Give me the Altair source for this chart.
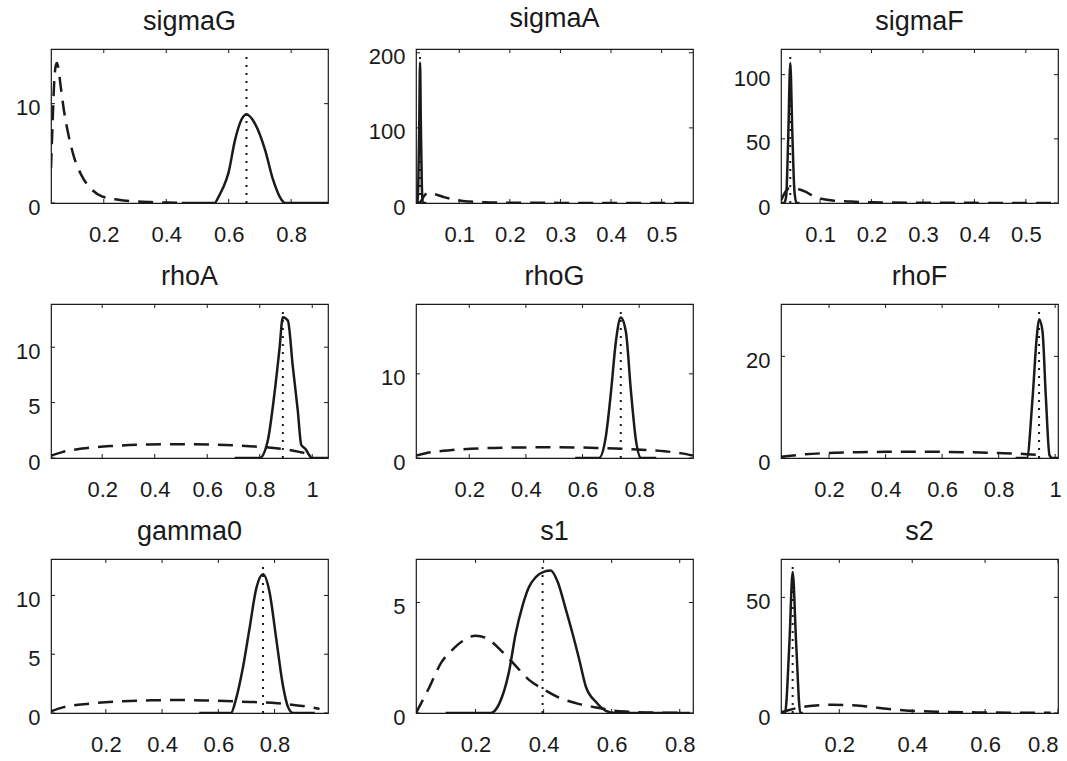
import altair as alt
import pandas as pd

FONT = "Liberation Sans"
INK = "#1a1a1a"
W, H = 277, 154

# ---------------- sigmaG ----------------
sigmaG_prior_x = [0.031, 0.036, 0.041, 0.046, 0.050, 0.055, 0.061, 0.072, 0.088, 0.104,
                  0.130, 0.162, 0.194, 0.247, 0.300, 0.350, 0.400, 0.450]
sigmaG_prior_y = [3.5, 8.0, 12.0, 13.8, 14.1, 13.5, 12.0, 9.4, 6.7, 4.7,
                  2.7, 1.34, 0.67, 0.33, 0.16, 0.09, 0.05, 0.03]
sigmaG_post_x = [0.450, 0.555, 0.567, 0.583, 0.599, 0.620, 0.641, 0.657, 0.684, 0.716,
                 0.742, 0.769, 0.780, 0.918]
sigmaG_post_y = [0, 0, 0.6, 1.6, 3.0, 6.3, 8.4, 8.9, 8.0, 5.4, 2.35, 0.33, 0, 0]
sigmaG_mode = 0.657
sigmaG_xlim = [0.031, 0.918]
sigmaG_ylim = [0, 15.5]
sigmaG_xticks = [0.2, 0.4, 0.6, 0.8]
sigmaG_yticks = [0, 10]

# ---------------- sigmaA ----------------
sigmaA_prior_x = [0.0145, 0.020, 0.025, 0.030, 0.035, 0.040, 0.045, 0.050, 0.060, 0.070,
                  0.085, 0.100, 0.120, 0.150, 0.200, 0.250, 0.300, 0.400, 0.500, 0.560]
sigmaA_prior_y = [0, 0.2, 3, 9, 12.5, 13.7, 13.3, 12.2, 10, 7.8,
                  5.2, 3.3, 2.0, 1.0, 0.45, 0.25, 0.15, 0.07, 0.04, 0.03]
sigmaA_post_x = [0.0145, 0.017, 0.019, 0.021, 0.0225, 0.024, 0.026, 0.028, 0.035]
sigmaA_post_y = [0, 0, 25, 110, 187, 110, 25, 0, 0]
sigmaA_mode = 0.0225
sigmaA_xlim = [0.0145, 0.562]
sigmaA_ylim = [0, 205]
sigmaA_xticks = [0.1, 0.2, 0.3, 0.4, 0.5]
sigmaA_yticks = [0, 100, 200]

# ---------------- sigmaF ----------------
sigmaF_prior_x = [0.024, 0.030, 0.035, 0.040, 0.050, 0.060, 0.070, 0.085, 0.100, 0.130,
                  0.160, 0.200, 0.300, 0.400, 0.500, 0.560]
sigmaF_prior_y = [2, 7, 10, 11.5, 11.5, 10.5, 9, 6, 3.5, 1.8,
                  1.1, 0.6, 0.2, 0.1, 0.06, 0.04]
sigmaF_post_x = [0.024, 0.030, 0.034, 0.038, 0.042, 0.046, 0.050, 0.054, 0.060]
sigmaF_post_y = [0, 0, 5, 50, 109, 55, 10, 0, 0]
sigmaF_mode = 0.042
sigmaF_xlim = [0.024, 0.5625]
sigmaF_ylim = [0, 120]
sigmaF_xticks = [0.1, 0.2, 0.3, 0.4, 0.5]
sigmaF_yticks = [0, 50, 100]

# ---------------- rhoA ----------------
rhoA_prior_x = [0.005, 0.05, 0.123, 0.25, 0.38, 0.5, 0.635, 0.76, 0.89, 0.95, 0.975, 0.995]
rhoA_prior_y = [0.2, 0.55, 0.85, 1.1, 1.22, 1.25, 1.2, 1.07, 0.8, 0.55, 0.4, 0.1]
rhoA_post_x = [0.705, 0.80, 0.83, 0.856, 0.875, 0.888, 0.907, 0.926, 0.945, 0.958,
               0.975, 0.99, 0.998, 1.06]
rhoA_post_y = [0, 0, 1.5, 5.8, 9.8, 12.7, 12.4, 8.25, 4.25, 1.2, 0.8, 0.2, 0, 0]
rhoA_mode = 0.888
rhoA_xlim = [0.005, 1.06]
rhoA_ylim = [0, 13.9]
rhoA_xticks = [0.2, 0.4, 0.6, 0.8, 1]
rhoA_yticks = [0, 5, 10]

# ---------------- rhoG ----------------
rhoG_prior_x = [0.012, 0.05, 0.124, 0.29, 0.48, 0.65, 0.77, 0.89, 0.95, 0.99]
rhoG_prior_y = [0.3, 0.6, 0.9, 1.2, 1.27, 1.2, 1.05, 0.8, 0.55, 0.3]
rhoG_post_x = [0.574, 0.658, 0.682, 0.700, 0.718, 0.735, 0.753, 0.771, 0.789, 0.807, 0.860]
rhoG_post_y = [0, 0, 2.5, 7.7, 13.9, 16.7, 15.0, 7.9, 2.0, 0, 0]
rhoG_mode = 0.735
rhoG_xlim = [0.012, 0.99]
rhoG_ylim = [0, 18.3]
rhoG_xticks = [0.2, 0.4, 0.6, 0.8]
rhoG_yticks = [0, 10]

# ---------------- rhoF ----------------
rhoF_prior_x = [0.03, 0.1, 0.2, 0.3, 0.4, 0.5, 0.6, 0.7, 0.8, 0.9, 0.95]
rhoF_prior_y = [0.25, 0.65, 1.0, 1.15, 1.22, 1.25, 1.2, 1.12, 0.98, 0.75, 0.55]
rhoF_post_x = [0.86, 0.90, 0.92, 0.935, 0.943, 0.955, 0.967, 0.98, 0.99, 1.01]
rhoF_post_y = [0, 0, 11.8, 23.9, 27.3, 25, 12, 0.5, 0, 0]
rhoF_mode = 0.943
rhoF_xlim = [0.03, 1.01]
rhoF_ylim = [0, 30.3]
rhoF_xticks = [0.2, 0.4, 0.6, 0.8, 1]
rhoF_yticks = [0, 20]

# ---------------- gamma0 ----------------
gamma0_prior_x = [0.005, 0.05, 0.145, 0.26, 0.36, 0.467, 0.574, 0.68, 0.81, 0.92, 0.96]
gamma0_prior_y = [0.15, 0.5, 0.8, 1.0, 1.08, 1.1, 1.05, 0.97, 0.83, 0.52, 0.35]
gamma0_post_x = [0.532, 0.645, 0.663, 0.687, 0.711, 0.735, 0.759, 0.782, 0.806, 0.830,
                 0.848, 0.866, 0.943]
gamma0_post_y = [0, 0, 1.2, 3.8, 7.2, 10.6, 11.8, 10.3, 6.3, 2.3, 0.5, 0, 0]
gamma0_mode = 0.759
gamma0_xlim = [0.005, 0.99]
gamma0_ylim = [0, 13.1]
gamma0_xticks = [0.2, 0.4, 0.6, 0.8]
gamma0_yticks = [0, 5, 10]

# ---------------- s1 ----------------
s1_prior_x = [0.025, 0.062, 0.100, 0.131, 0.161, 0.200, 0.230, 0.280, 0.320, 0.357,
              0.397, 0.445, 0.505, 0.554, 0.600, 0.650, 0.730, 0.800]
s1_prior_y = [0, 1.1, 2.3, 2.85, 3.25, 3.5, 3.4, 2.75, 2.1, 1.5,
              1.1, 0.7, 0.4, 0.25, 0.12, 0.06, 0.02, 0.01]
s1_post_x = [0.112, 0.244, 0.269, 0.298, 0.318, 0.338, 0.357, 0.377, 0.402, 0.421,
             0.441, 0.465, 0.485, 0.505, 0.524, 0.554, 0.583, 0.610, 0.830]
s1_post_y = [0, 0, 0.4, 1.85, 3.6, 4.85, 5.7, 6.15, 6.4, 6.45,
             5.95, 4.7, 3.6, 2.4, 1.2, 0.5, 0.1, 0, 0]
s1_mode = 0.397
s1_xlim = [0.025, 0.839]
s1_ylim = [0, 6.97]
s1_xticks = [0.2, 0.4, 0.6, 0.8]
s1_yticks = [0, 5]

# ---------------- s2 ----------------
s2_prior_x = [0.04, 0.06, 0.08, 0.10, 0.126, 0.18, 0.237, 0.29, 0.33, 0.39, 0.49, 0.58, 0.72, 0.78]
s2_prior_y = [0.3, 1.2, 2.0, 2.6, 3.1, 3.6, 3.3, 2.6, 1.8, 1.0, 0.5, 0.25, 0.1, 0.06]
s2_post_x = [0.04, 0.051, 0.063, 0.072, 0.0816, 0.093, 0.10]
s2_post_y = [0, 0, 30, 61, 30, 0, 0]
s2_mode = 0.072
s2_xlim = [0.04, 0.80]
s2_ylim = [0, 66.6]
s2_xticks = [0.2, 0.4, 0.6, 0.8]
s2_yticks = [0, 50]


def panel(title, prior_x, prior_y, post_x, post_y, mode, xlim, ylim, xticks, yticks):
    """Prior (dashed), posterior (solid) and posterior mode (dotted) in a boxed frame."""
    xscale = alt.Scale(domain=xlim, nice=False, zero=False)
    yscale = alt.Scale(domain=ylim, nice=False, zero=False)
    common = dict(ticks=False, domain=False, grid=False, title=None,
                  labelExpr="'' + datum.value",
                  labelFont=FONT, labelFontSize=22, labelColor=INK)
    xenc = alt.X("x:Q", scale=xscale,
                 axis=alt.Axis(values=xticks, labelPadding=21, **common))
    yenc = alt.Y("y:Q", scale=yscale,
                 axis=alt.Axis(values=yticks, labelPadding=11, labelOffset=4, **common))

    prior = alt.Chart(pd.DataFrame({"x": prior_x, "y": prior_y})).mark_line(
        color=INK, strokeWidth=2.5, strokeDash=[15, 9], interpolate="monotone", clip=True
    ).encode(x=xenc, y=yenc)

    post = alt.Chart(pd.DataFrame({"x": post_x, "y": post_y})).mark_line(
        color=INK, strokeWidth=2.5, interpolate="monotone", clip=True
    ).encode(x=xenc, y=yenc)

    mode_df = pd.DataFrame({"x": [mode], "y": [ylim[0]], "y2": [ylim[1] * 0.97]})
    mode_line = alt.Chart(mode_df).mark_rule(
        color=INK, strokeWidth=2, strokeDash=[2, 6]
    ).encode(x=xenc, y=yenc, y2="y2:Q")

    # inward tick marks on all four sides of the box
    xt = pd.DataFrame({"x": xticks})
    yt = pd.DataFrame({"y": yticks})
    tick_style = dict(color=INK, strokeWidth=1)
    xt_bottom = alt.Chart(xt).mark_rule(**tick_style).encode(
        x=xenc, y=alt.value(H), y2=alt.value(H - 4))
    xt_top = alt.Chart(xt).mark_rule(**tick_style).encode(
        x=xenc, y=alt.value(0), y2=alt.value(4))
    yt_left = alt.Chart(yt).mark_rule(**tick_style).encode(
        y=yenc, x=alt.value(0), x2=alt.value(4))
    yt_right = alt.Chart(yt).mark_rule(**tick_style).encode(
        y=yenc, x=alt.value(W), x2=alt.value(W - 4))

    return alt.layer(prior, post, mode_line, xt_bottom, xt_top, yt_left, yt_right).properties(
        width=W, height=H,
        title=alt.TitleParams(title, fontSize=27, font=FONT, fontWeight="normal",
                              color=INK, offset=13, anchor="middle"),
    )


panels = [
    panel("sigmaG", sigmaG_prior_x, sigmaG_prior_y, sigmaG_post_x, sigmaG_post_y,
          sigmaG_mode, sigmaG_xlim, sigmaG_ylim, sigmaG_xticks, sigmaG_yticks),
    panel("sigmaA", sigmaA_prior_x, sigmaA_prior_y, sigmaA_post_x, sigmaA_post_y,
          sigmaA_mode, sigmaA_xlim, sigmaA_ylim, sigmaA_xticks, sigmaA_yticks),
    panel("sigmaF", sigmaF_prior_x, sigmaF_prior_y, sigmaF_post_x, sigmaF_post_y,
          sigmaF_mode, sigmaF_xlim, sigmaF_ylim, sigmaF_xticks, sigmaF_yticks),
    panel("rhoA", rhoA_prior_x, rhoA_prior_y, rhoA_post_x, rhoA_post_y,
          rhoA_mode, rhoA_xlim, rhoA_ylim, rhoA_xticks, rhoA_yticks),
    panel("rhoG", rhoG_prior_x, rhoG_prior_y, rhoG_post_x, rhoG_post_y,
          rhoG_mode, rhoG_xlim, rhoG_ylim, rhoG_xticks, rhoG_yticks),
    panel("rhoF", rhoF_prior_x, rhoF_prior_y, rhoF_post_x, rhoF_post_y,
          rhoF_mode, rhoF_xlim, rhoF_ylim, rhoF_xticks, rhoF_yticks),
    panel("gamma0", gamma0_prior_x, gamma0_prior_y, gamma0_post_x, gamma0_post_y,
          gamma0_mode, gamma0_xlim, gamma0_ylim, gamma0_xticks, gamma0_yticks),
    panel("s1", s1_prior_x, s1_prior_y, s1_post_x, s1_post_y,
          s1_mode, s1_xlim, s1_ylim, s1_xticks, s1_yticks),
    panel("s2", s2_prior_x, s2_prior_y, s2_post_x, s2_post_y,
          s2_mode, s2_xlim, s2_ylim, s2_xticks, s2_yticks),
]

chart = alt.concat(
    *panels, columns=3, spacing={"row": 101, "column": 88}, bounds="flush"
).properties(
    padding={"left": 14, "top": 4, "right": 0, "bottom": 0},
    background="white",
).configure_view(stroke=INK, strokeWidth=1.2)

chart.save("out.html", embed_options={"renderer": "svg", "actions": False})
